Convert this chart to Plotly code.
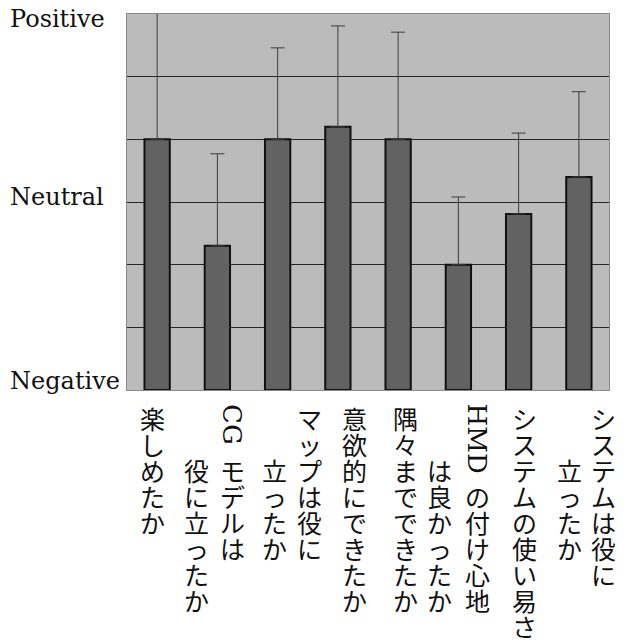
import math
import plotly.graph_objects as go

# ---- data ----
categories = [
    "楽しめたか",
    "CGモデルは\n役に立ったか",
    "マップは役に\n立ったか",
    "意欲的にできたか",
    "隅々までできたか",
    "HMDの付け心地\nは良かったか",
    "システムの使い易さ",
    "システムは役に\n立ったか",
]
mean_scores = [5.00, 3.30, 5.00, 5.20, 5.00, 3.00, 3.81, 4.40]
error_plus = [2.10, 1.47, 1.46, 1.61, 1.71, 1.08, 1.29, 1.36]
tick_values = [1, 4, 7]
tick_labels = ["Negative", "Neutral", "Positive"]

# ---- layout settings ----
W, H = 627, 643
ML, MR, MT, MB = 127, 18, 14, 253
col_offsets = [[-5], [15, -21], [32, -3], [17], [7], [19, -19], [6], [25, -9]]
col_start_rows = [0, 2]
ROW_PITCH = 26             # = 1.3 * LINE_FONT (plotly line spacing)
LINE_FONT = 20
GLYPH_FONT = 25
FIRST_ROW_CENTER = 28      # px below plot bottom
LATIN_TOP = 13             # px below plot bottom
tick_yshift = {"Negative": 9.5, "Neutral": 5, "Positive": -4.5}

x_pos = list(range(len(categories)))
base_val = tick_values[0]

fig = go.Figure()
fig.add_trace(go.Bar(
    x=x_pos,
    y=[v - base_val for v in mean_scores],
    base=[base_val] * len(mean_scores),
    width=0.42,
    marker=dict(color="#626262", line=dict(color="#111111", width=2)),
    error_y=dict(type="data", symmetric=False, array=error_plus,
                 arrayminus=[0] * len(error_plus),
                 color="#3c3c3c", thickness=1, width=7),
    hoverinfo="skip",
))

annotations = []
# y-axis category labels
for val, txt in zip(tick_values, tick_labels):
    annotations.append(dict(
        x=0, xref="paper", xshift=-118, xanchor="left",
        y=val, yref="y", yshift=tick_yshift[txt], yanchor="middle",
        text=txt, showarrow=False, borderpad=0,
        font=dict(family="DejaVu Serif", size=24, color="#111111"),
    ))

# vertical japanese x labels (one annotation per column)
for i, label in enumerate(categories):
    cols = label.split("\n")
    for c, col_text in enumerate(cols):
        xoff = col_offsets[i][c]
        row = col_start_rows[c]
        j = 0
        while j < len(col_text) and col_text[j].isascii():
            j += 1
        if j > 0:
            latin = col_text[:j]
            annotations.append(dict(
                x=i, xref="x", xshift=xoff, xanchor="center",
                y=0, yref="paper", yshift=-LATIN_TOP, yanchor="top",
                text=latin, textangle=90, showarrow=False, borderpad=0,
                font=dict(family="DejaVu Serif", size=26, color="#111111"),
            ))
            row += math.ceil(len(latin) * 0.85)
        chars = col_text[j:]
        n = len(chars)
        center_row = row + (n - 1) / 2
        text = "<br>".join(
            f'<span style="font-size:{GLYPH_FONT}px">{ch}</span>' for ch in chars)
        annotations.append(dict(
            x=i, xref="x", xshift=xoff, xanchor="center",
            y=0, yref="paper",
            yshift=-(FIRST_ROW_CENTER + ROW_PITCH * center_row),
            yanchor="middle", borderpad=0, align="center",
            text=text, showarrow=False,
            font=dict(family="Noto Sans CJK JP", size=LINE_FONT, color="#111111"),
        ))

fig.update_layout(
    width=W, height=H,
    margin=dict(l=ML, r=MR, t=MT, b=MB, pad=0),
    paper_bgcolor="white",
    plot_bgcolor="#bbbbbb",
    showlegend=False,
    annotations=annotations,
    hovermode=False,
)
fig.update_xaxes(range=[-0.5, len(categories) - 0.5], showticklabels=False,
                 showgrid=False, zeroline=False, ticks="",
                 showline=True, mirror=True, linecolor="#8a8a8a", linewidth=1)
fig.update_yaxes(range=[1, 7], dtick=1, tick0=1, showticklabels=False,
                 gridcolor="#262626", gridwidth=1, zeroline=False, ticks="",
                 showline=True, mirror=True, linecolor="#8a8a8a", linewidth=1)

fig.write_html("out.html",
               config={"displayModeBar": False, "staticPlot": True},
               post_script="document.body.style.margin='0';document.body.style.overflow='hidden';")
